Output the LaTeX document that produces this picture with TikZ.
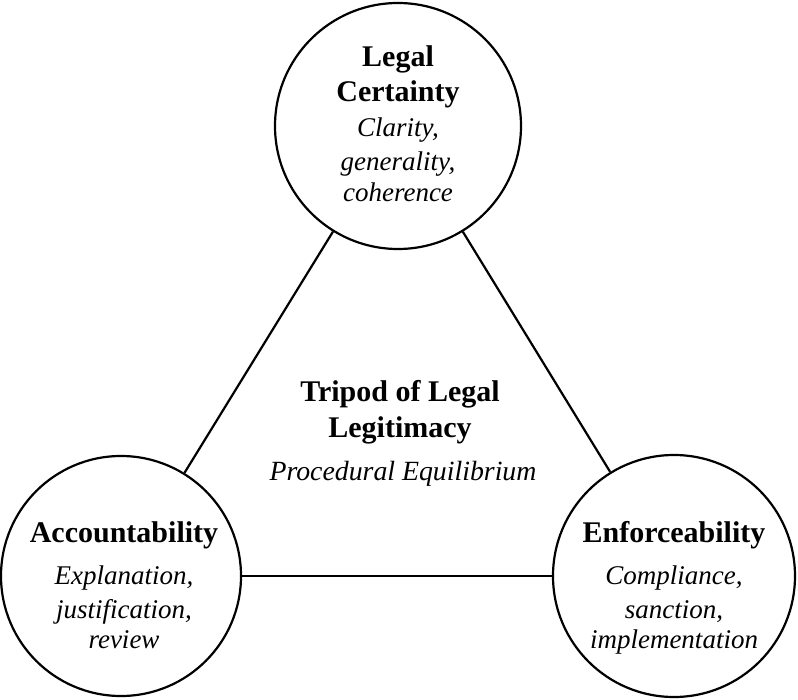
\documentclass[tikz,border=0pt]{standalone}
\usepackage{fontspec}
\setmainfont{Liberation Serif}
\begin{document}
\begin{tikzpicture}[x=1pt,y=-1pt,
  circ/.style={circle,draw=black,line width=2.2pt,minimum size=#1,inner sep=0pt},
  edge/.style={draw=black,line width=2.2pt},
  ttl/.style={anchor=base,inner sep=0pt,font=\fontsize{30}{34}\selectfont\bfseries},
  sub/.style={anchor=base,inner sep=0pt,font=\fontsize{27}{32}\selectfont\itshape}]
\useasboundingbox (0,0) rectangle (798,700);
\fill[white] (0,0) rectangle (798,700);
\node[circ=246pt] (top) at (398,126) {};
\node[circ=240pt] (left) at (121,576) {};
\node[circ=242pt] (right) at (674,576) {};
\draw[edge] (top) -- (left);
\draw[edge] (top) -- (right);
\draw[edge] (left) -- (right);
% top texts
\node[ttl] (t1) at (398,67) {Legal};
\node[ttl] (t2) at (398,102) {Certainty};
\node[sub] (t3) at (398,137) {Clarity,};
\node[sub] (t4) at (398,171) {generality,};
\node[sub] (t5) at (398,202) {coherence};
% left texts
\node[ttl] (l1) at (124,542) {Accountability};
\node[sub] (l2) at (124,584) {Explanation,};
\node[sub] (l3) at (124,618) {justification,};
\node[sub] (l4) at (124,648) {review};
% right texts
\node[ttl] (r1) at (674,542) {Enforceability};
\node[sub] (r2) at (674,584) {Compliance,};
\node[sub] (r3) at (674,618) {sanction,};
\node[sub] (r4) at (674,648) {implementation};
% centre texts
\node[ttl] (c1) at (400,402) {Tripod of Legal};
\node[ttl] (c2) at (400,438) {Legitimacy};
\node[sub,font=\fontsize{27.8}{32}\selectfont\itshape] (c3) at (403,480) {Procedural Equilibrium};
\end{tikzpicture}
\end{document}
